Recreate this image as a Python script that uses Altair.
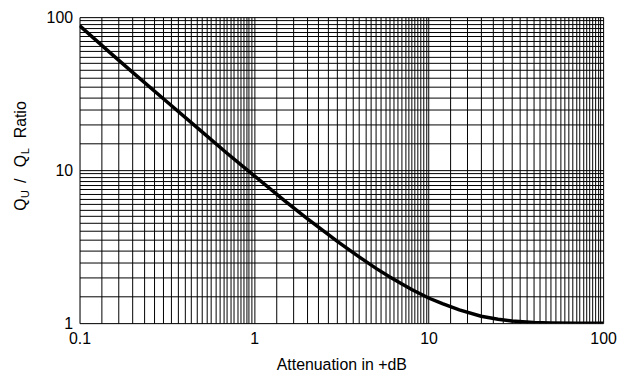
import altair as alt
import pandas as pd

# Curve (attenuation in dB -> Qu/QL ratio)
attenuation_db = [0.1, 0.15, 0.2, 0.3, 0.5, 0.7, 1, 1.5, 2, 3, 4, 5, 6, 7, 8, 10,
                  12, 15, 20, 25, 30, 40, 50, 70, 100]
qu_ql_ratio = [88, 58.4, 43.9, 29.5, 17.9, 12.9, 9.2, 6.3, 4.86, 3.42, 2.71, 2.28,
               2.0, 1.81, 1.66, 1.46, 1.34, 1.22, 1.11, 1.06, 1.033, 1.01, 1.003,
               1.0, 1.0]

# Axis labels / grid ticks
x_decades = [0.1, 1, 10]
x_steps_per_decade = 27          # grid every 1/3 of the decade's base
y_decades = [1, 10]
y_steps_per_decade = 18          # grid every 0.5 of the decade's base

x_grid = sorted({round(d * (1 + k / 3), 6) for d in x_decades for k in range(x_steps_per_decade + 1)})
y_grid = sorted({round(d * (1 + k / 2), 6) for d in y_decades for k in range(y_steps_per_decade + 1)})

# y-title pieces: text, font size, subscript?, start position (screen y)
title_text = ["Q", "U", "/", "Q", "L", "Ratio"]
title_size = [16, 11, 16, 16, 11, 16]
title_sub = [False, True, False, False, True, False]
title_start = [211, 198, 183, 167, 154, 138]

FONT = "Liberation Sans"
W, H = 527, 308
ORIGIN_X, ORIGIN_Y = 80, 16

df = pd.DataFrame({"a": attenuation_db, "q": qu_ql_ratio})

decade_expr = "abs(log(datum.value)/LN10 - round(log(datum.value)/LN10)) < 1e-6 ? datum.label : ''"

xscale = alt.Scale(type="log", domain=[0.1, 100], nice=False)
yscale = alt.Scale(type="log", domain=[1, 100], nice=False)

line = alt.Chart(df).mark_line(color="black", strokeWidth=3.5, clip=True).encode(
    x=alt.X("a:Q", scale=xscale,
            axis=alt.Axis(values=x_grid, grid=True, gridColor="black", gridOpacity=1,
                          gridWidth=1, ticks=False, domain=False, format="~g",
                          labelExpr=decade_expr, labelOverlap=False, labelFont=FONT,
                          labelFontSize=16, labelColor="black", labelPadding=8,
                          labelFlush=False,
                          title="Attenuation in +dB", titleFont=FONT, titleFontSize=16,
                          titleFontWeight="normal", titleColor="black", titlePadding=10)),
    y=alt.Y("q:Q", scale=yscale,
            axis=alt.Axis(values=y_grid, grid=True, gridColor="black", gridOpacity=1,
                          gridWidth=1, ticks=False, domain=False, format="~g",
                          labelExpr=decade_expr, labelOverlap=False, labelFont=FONT,
                          labelFontSize=16, labelColor="black", labelPadding=7,
                          labelFlush=False, title=None)),
)

layers = [line]
for txt, size, sub, start in zip(title_text, title_size, title_sub, title_start):
    layers.append(
        alt.Chart(pd.DataFrame({"t": [txt]})).mark_text(
            angle=270, align="left", baseline="alphabetic", font=FONT,
            fontSize=size, color="black"
        ).encode(
            text="t:N",
            x=alt.value((29 if sub else 26) - ORIGIN_X),
            y=alt.value(start - ORIGIN_Y),
        )
    )

chart = alt.layer(*layers).properties(
    width=W, height=H,
    autosize=alt.AutoSizeParams(type="none"),
    padding={"left": ORIGIN_X - 8, "top": ORIGIN_Y - 8, "right": 16, "bottom": 48},
).configure_view(stroke="black", strokeWidth=1.5).configure(background="white")

chart.save("out.html", embed_options={"renderer": "svg", "actions": False})
